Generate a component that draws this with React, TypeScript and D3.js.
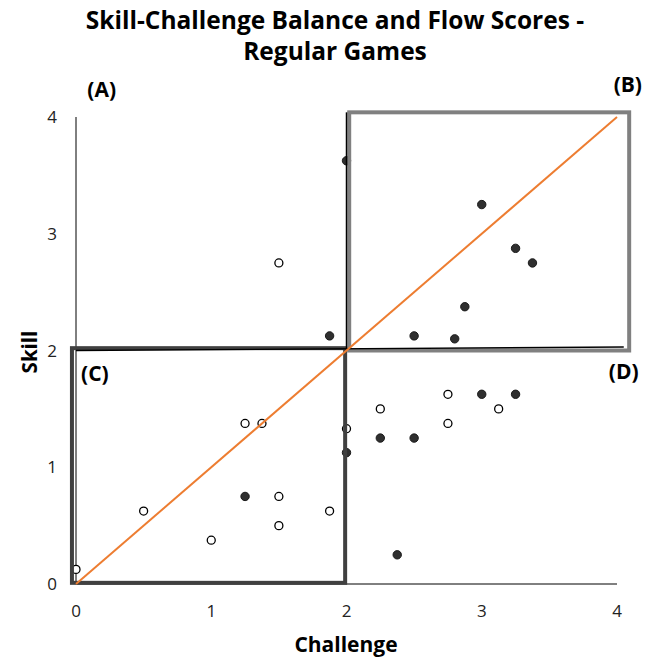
import React from 'react';
import * as d3 from 'd3';

// Filled markers (one game group) and open markers (the other)
const filledPoints: [number, number][] = [
  [2, 3.625], [1.875, 2.125], [3, 3.25], [3.25, 2.875], [3.375, 2.75],
  [2.875, 2.375], [2.5, 2.125], [2.8, 2.1], [2, 1.125], [1.25, 0.75],
  [3, 1.625], [3.25, 1.625], [2.25, 1.25], [2.5, 1.25], [2.375, 0.25],
];
const openPoints: [number, number][] = [
  [1.5, 2.75], [1.25, 1.375], [1.375, 1.375], [2, 1.33], [1.5, 0.75],
  [0.5, 0.625], [1.875, 0.625], [1.5, 0.5], [1, 0.375], [0, 0.125],
  [2.75, 1.625], [2.25, 1.5], [3.125, 1.5], [2.75, 1.375],
];

const xTicks = [0, 1, 2, 3, 4];
const yTicks = [0, 1, 2, 3, 4];

// quadrant boxes [x0, y0, x1, y1] in data units
const boxC = [-0.03, 0.01, 1.99, 2.02];
const boxB = [2.02, 2.0, 4.09, 4.04];
// divider lines (hand-drawn look, slightly off level)
const hLine: [number, number][] = [[0, 2.0], [4.05, 2.03]];
const vLine: [number, number][] = [[2, 2.0], [2, 4.04]];
const diag: [number, number][] = [[0, 0], [4, 4]];

const quadrantLabels = [
  { text: '(A)', x: 0.19, y: 4.17 },
  { text: '(B)', x: 4.08, y: 4.21 },
  { text: '(C)', x: 0.14, y: 1.74 },
  { text: '(D)', x: 4.05, y: 1.76 },
];

const W = 651;
const H = 661;
const FONT = "'Open Sans', 'Noto Sans', sans-serif";

export default function App() {
  const x = d3.scaleLinear().domain([0, 4]).range([76, 617]);
  const y = d3.scaleLinear().domain([0, 4]).range([584, 117]);
  const line = d3.line<[number, number]>().x(d => x(d[0])).y(d => y(d[1]));

  const rect = (b: number[], stroke: string) => (
    <rect
      x={x(b[0])}
      y={y(b[3])}
      width={x(b[2]) - x(b[0])}
      height={y(b[1]) - y(b[3])}
      fill="none"
      stroke={stroke}
      strokeWidth={4}
    />
  );

  return (
    <svg width={W} height={H} style={{ position: 'absolute', left: 0, top: 0, background: '#fff' }}>
      <rect width={W} height={H} fill="#fff" />

      <text x={335} y={29} textAnchor="middle" fontFamily={FONT} fontWeight="bold" fontSize={24.5} fill="#000">
        Skill-Challenge Balance and Flow Scores -
      </text>
      <text x={335} y={60} textAnchor="middle" fontFamily={FONT} fontWeight="bold" fontSize={24.5} fill="#000">
        Regular Games
      </text>

      {/* axes */}
      <line x1={x(0)} x2={x(0)} y1={y(0)} y2={y(4)} stroke="#000" strokeWidth={1} />
      <line x1={x(0)} x2={x(4)} y1={y(0)} y2={y(0)} stroke="#000" strokeWidth={1} />

      {yTicks.map(t => (
        <text key={'y' + t} x={57} y={y(t)} dy="0.36em" textAnchor="end" fontFamily={FONT} fontSize={17} fill="#222">
          {t}
        </text>
      ))}
      {xTicks.map(t => (
        <text key={'x' + t} x={x(t)} y={617} textAnchor="middle" fontFamily={FONT} fontSize={17} fill="#222">
          {t}
        </text>
      ))}

      <text x={346} y={652} textAnchor="middle" fontFamily={FONT} fontWeight="bold" fontSize={21} fill="#000">
        Challenge
      </text>
      <text transform={`translate(37,352) rotate(-90)`} textAnchor="middle" fontFamily={FONT} fontWeight="bold" fontSize={20.5} fill="#000">
        Skill
      </text>

      {/* points */}
      {filledPoints.map((p, i) => (
        <circle key={'f' + i} cx={x(p[0])} cy={y(p[1])} r={4.2} fill="#2f2f2f" stroke="#1a1a1a" strokeWidth={1} />
      ))}
      {openPoints.map((p, i) => (
        <circle key={'o' + i} cx={x(p[0])} cy={y(p[1])} r={4} fill="#fff" stroke="#000" strokeWidth={1.3} />
      ))}

      {/* quadrant boxes and dividers */}
      {rect(boxB, '#808080')}
      {rect(boxC, '#404040')}
      <path d={line(hLine) || ''} stroke="#000" strokeWidth={1.3} fill="none" />
      <path d={line(vLine) || ''} stroke="#000" strokeWidth={1.5} fill="none" />
      <path d={line(diag) || ''} stroke="#ED7D31" strokeWidth={2} fill="none" />

      {quadrantLabels.map(l => (
        <text key={l.text} x={x(l.x)} y={y(l.y)} textAnchor="middle" fontFamily={FONT} fontWeight="bold" fontSize={21} fill="#000">
          {l.text}
        </text>
      ))}
    </svg>
  );
}
